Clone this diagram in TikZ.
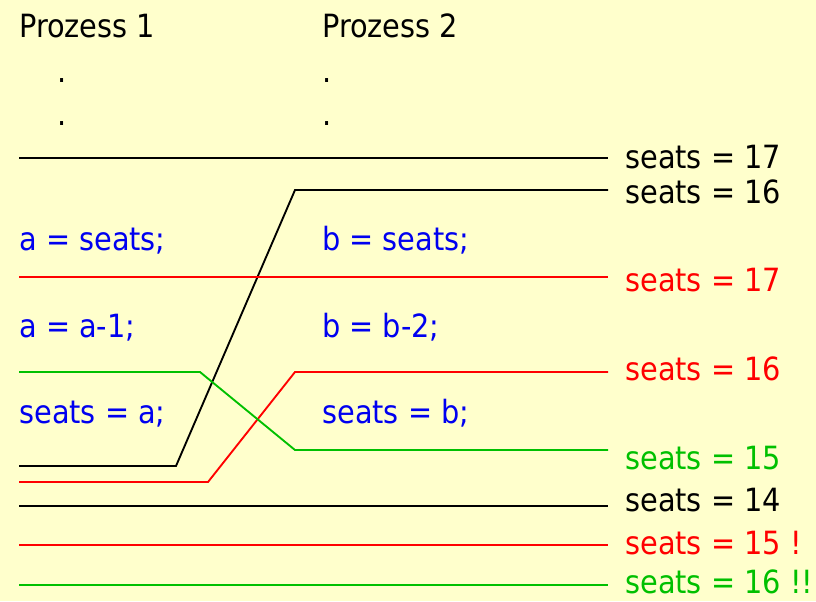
\documentclass[tikz,border=0pt]{standalone}
\usepackage{fontspec}
\setmainfont{DejaVu Sans Condensed}
\definecolor{bg}{RGB}{255,255,204}
\definecolor{cblue}{RGB}{0,0,240}
\definecolor{cred}{RGB}{255,0,0}
\definecolor{cgreen}{RGB}{0,192,0}
\tikzset{
  txt/.style={anchor=base west, inner sep=0pt, font=\fontsize{24}{28}\selectfont},
  ln/.style={line width=1.4pt}
}
\begin{document}
\begin{tikzpicture}[x=0.75pt,y=-0.75pt]
\fill[bg] (0,0) rectangle (816,601);
\useasboundingbox (0,0) rectangle (816,601);
% headings
\node[txt] (p1) at (19,37) {Prozess 1};
\node[txt] (p2) at (322,37) {Prozess 2};
\node[txt] (d1) at (57,82) {.};
\node[txt] (d2) at (57,125) {.};
\node[txt] (d3) at (322,82) {.};
\node[txt] (d4) at (322,125) {.};
% code
\node[txt,text=cblue] (a1) at (19,250) {a = seats;};
\node[txt,text=cblue] (b1) at (322,250) {b = seats;};
\node[txt,text=cblue] (a2) at (19,337) {a = a-1;};
\node[txt,text=cblue] (b2) at (322,337) {b = b-2;};
\node[txt,text=cblue] (a3) at (19,423) {seats = a;};
\node[txt,text=cblue] (b3) at (322,423) {seats = b;};
% labels
\node[txt] (s1) at (625,168) {seats = 17};
\node[txt] (s2) at (625,203) {seats = 16};
\node[txt,text=cred] (s3) at (625,291) {seats = 17};
\node[txt,text=cred] (s4) at (625,380) {seats = 16};
\node[txt,text=cgreen] (s5) at (625,469) {seats = 15};
\node[txt] (s6) at (625,511) {seats = 14};
\node[txt,text=cred] (s7) at (625,554) {seats = 15 !};
\node[txt,text=cgreen] (s8) at (625,593) {seats = 16 !!};
% line coordinates
\coordinate (k1a) at (19,158);  \coordinate (k1b) at (608,158);
\coordinate (k2a) at (19,466);  \coordinate (k2m) at (176,466); \coordinate (k2n) at (295,190); \coordinate (k2b) at (608,190);
\coordinate (r1a) at (19,277);  \coordinate (r1b) at (608,277);
\coordinate (r2a) at (19,482);  \coordinate (r2m) at (208,482); \coordinate (r2n) at (295,372); \coordinate (r2b) at (608,372);
\coordinate (g1a) at (19,372);  \coordinate (g1m) at (200,372); \coordinate (g1n) at (295,450); \coordinate (g1b) at (608,450);
\coordinate (k3a) at (19,506);  \coordinate (k3b) at (608,506);
\coordinate (r3a) at (19,545);  \coordinate (r3b) at (608,545);
\coordinate (g3a) at (19,585);  \coordinate (g3b) at (608,585);
% lines
\draw[ln,black] (k1a) -- (k1b);
\draw[ln,black] (k2a) -- (k2m) -- (k2n) -- (k2b);
\draw[ln,cred] (r1a) -- (r1b);
\draw[ln,cred] (r2a) -- (r2m) -- (r2n) -- (r2b);
\draw[ln,cgreen] (g1a) -- (g1m) -- (g1n) -- (g1b);
\draw[ln,black] (k3a) -- (k3b);
\draw[ln,cred] (r3a) -- (r3b);
\draw[ln,cgreen] (g3a) -- (g3b);
\end{tikzpicture}
\end{document}
